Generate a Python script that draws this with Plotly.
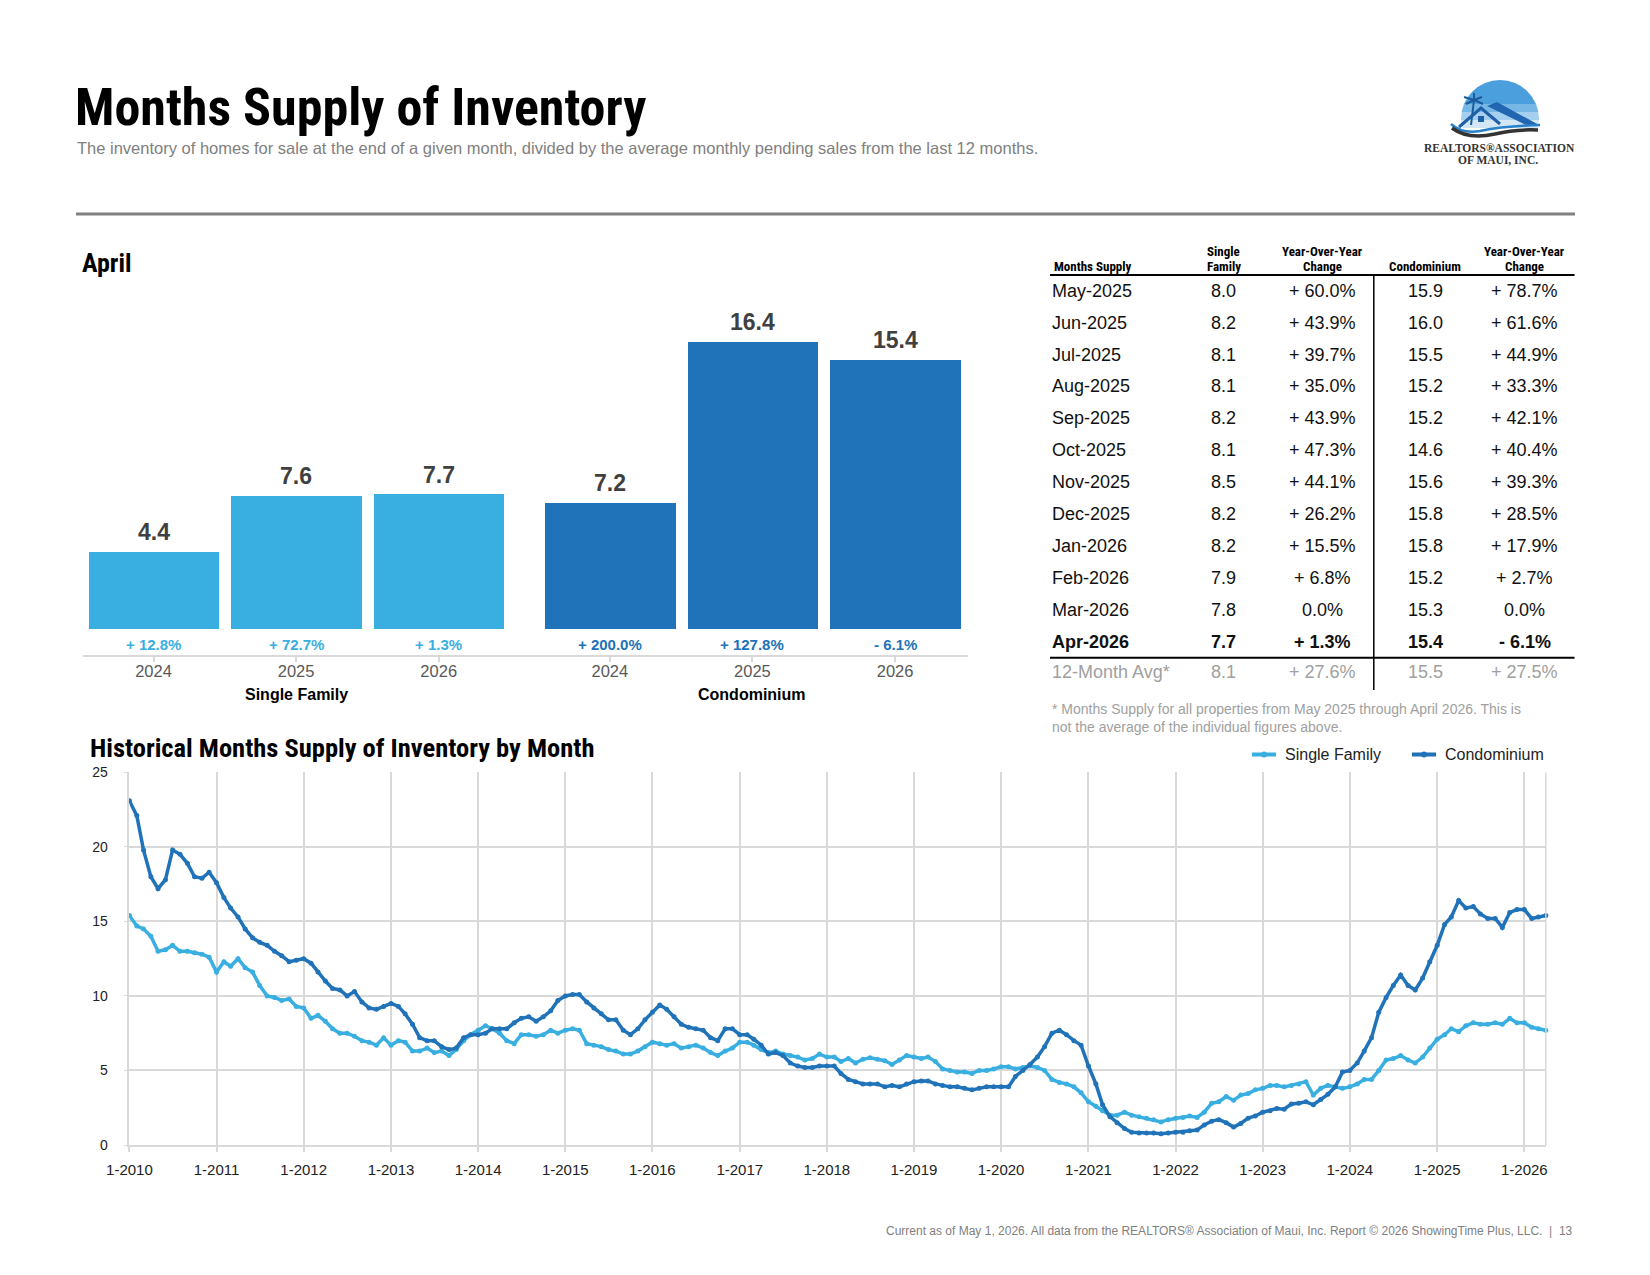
import plotly.graph_objects as go
import pandas as pd

W, H = 1650, 1275


def px(x):
    return x / W


def py(y):
    return 1 - y / H


SF_BLUE = "#39AEE1"
CONDO_BLUE = "#2073B8"
NARROW = "Roboto Condensed, Liberation Sans Narrow, DejaVu Sans Condensed, sans-serif"
SANS = "Liberation Sans, Arial, Helvetica, sans-serif"
SERIF = "Liberation Serif, Times New Roman, serif"
GRID = "#d9d9d9"

# ---------------- data: April bar chart ----------------
bar_years = ["2024", "2025", "2026"]
bar_groups = ["Single Family", "Condominium"]
sf_april = [4.4, 7.6, 7.7]
condo_april = [7.2, 16.4, 15.4]
sf_april_change = ["+ 12.8%", "+ 72.7%", "+ 1.3%"]
condo_april_change = ["+ 200.0%", "+ 127.8%", "- 6.1%"]

# ---------------- data: table ----------------
table_header = ["Months Supply", "Single|Family", "Year-Over-Year|Change", "|Condominium", "Year-Over-Year|Change"]
table_months = ["May-2025", "Jun-2025", "Jul-2025", "Aug-2025", "Sep-2025", "Oct-2025",
                "Nov-2025", "Dec-2025", "Jan-2026", "Feb-2026", "Mar-2026", "Apr-2026"]
table_sf = ["8.0", "8.2", "8.1", "8.1", "8.2", "8.1", "8.5", "8.2", "8.2", "7.9", "7.8", "7.7"]
table_sf_yoy = ["+ 60.0%", "+ 43.9%", "+ 39.7%", "+ 35.0%", "+ 43.9%", "+ 47.3%",
                "+ 44.1%", "+ 26.2%", "+ 15.5%", "+ 6.8%", "0.0%", "+ 1.3%"]
table_condo = ["15.9", "16.0", "15.5", "15.2", "15.2", "14.6", "15.6", "15.8", "15.8", "15.2", "15.3", "15.4"]
table_condo_yoy = ["+ 78.7%", "+ 61.6%", "+ 44.9%", "+ 33.3%", "+ 42.1%", "+ 40.4%",
                   "+ 39.3%", "+ 28.5%", "+ 17.9%", "+ 2.7%", "0.0%", "- 6.1%"]
table_avg = ["12-Month Avg*", "8.1", "+ 27.6%", "15.5", "+ 27.5%"]

# ---------------- data: historical monthly series (Jan 2010 - Apr 2026) ----------------
sf_monthly = [
    15.4, 14.7, 14.5, 14.0, 13.0, 13.1, 13.4, 13.0, 13.0, 12.9, 12.8, 12.6,  # 2010
    11.6, 12.3, 12.0, 12.5, 11.9, 11.6, 10.7, 10.0, 9.9, 9.7, 9.8, 9.3,      # 2011
    9.2, 8.5, 8.7, 8.3, 7.8, 7.5, 7.5, 7.3, 7.0, 6.9, 6.7, 7.2,              # 2012
    6.7, 7.0, 6.9, 6.3, 6.3, 6.5, 6.2, 6.3, 6.0, 6.4, 7.0, 7.4,              # 2013
    7.7, 8.0, 7.8, 7.5, 7.0, 6.8, 7.4, 7.4, 7.3, 7.4, 7.7, 7.5,              # 2014
    7.7, 7.8, 7.7, 6.8, 6.7, 6.6, 6.4, 6.3, 6.1, 6.1, 6.3, 6.6,              # 2015
    6.9, 6.8, 6.7, 6.8, 6.5, 6.6, 6.7, 6.5, 6.2, 6.0, 6.3, 6.5,              # 2016
    6.9, 6.9, 6.7, 6.4, 6.2, 6.3, 6.1, 6.0, 5.9, 5.7, 5.8, 6.1,              # 2017
    5.9, 5.9, 5.6, 5.8, 5.5, 5.75, 5.85, 5.75, 5.65, 5.4, 5.7, 6.0,          # 2018
    5.9, 5.8, 5.9, 5.6, 5.1, 5.0, 4.9, 4.9, 4.8, 5.0, 5.0, 5.1,              # 2019
    5.25, 5.25, 5.1, 5.2, 5.3, 5.2, 5.0, 4.4, 4.2, 4.1, 3.9, 3.5,            # 2020
    2.9, 2.6, 2.3, 2.0, 2.0, 2.2, 2.0, 1.9, 1.8, 1.7, 1.55, 1.7,             # 2021
    1.8, 1.85, 1.95, 1.85, 2.2, 2.8, 2.9, 3.25, 3.0, 3.35, 3.45, 3.7,        # 2022
    3.8, 4.0, 4.0, 3.9, 4.0, 4.1, 4.25, 3.35, 3.8, 4.0, 3.9, 3.8,            # 2023
    3.9, 4.1, 4.4, 4.4, 5.0, 5.7, 5.8, 6.0, 5.7, 5.5, 5.9, 6.5,              # 2024
    7.1, 7.4, 7.8, 7.6, 8.0, 8.2, 8.1, 8.1, 8.2, 8.1, 8.5, 8.2,              # 2025
    8.2, 7.9, 7.8, 7.7,                                                      # 2026
]
condo_monthly = [
    23.1, 22.1, 19.8, 18.0, 17.2, 17.8, 19.8, 19.5, 18.9, 18.0, 17.9, 18.3,  # 2010
    17.6, 16.6, 15.9, 15.3, 14.5, 13.9, 13.6, 13.4, 13.0, 12.7, 12.3, 12.4,  # 2011
    12.5, 12.2, 11.6, 11.0, 10.5, 10.4, 10.0, 10.3, 9.6, 9.2, 9.1, 9.3,      # 2012
    9.5, 9.3, 8.8, 8.1, 7.2, 7.0, 7.0, 6.6, 6.4, 6.5, 7.2, 7.4,              # 2013
    7.4, 7.5, 7.8, 7.8, 7.8, 8.2, 8.5, 8.6, 8.3, 8.6, 9.0, 9.7,              # 2014
    10.0, 10.1, 10.1, 9.6, 9.2, 8.8, 8.4, 8.4, 7.7, 7.4, 7.8, 8.4,           # 2015
    8.9, 9.4, 9.1, 8.6, 8.1, 7.9, 7.8, 7.7, 7.2, 7.0, 7.8, 7.8,              # 2016
    7.4, 7.4, 7.1, 6.7, 6.1, 6.2, 6.0, 5.5, 5.3, 5.2, 5.2, 5.3,              # 2017
    5.3, 5.3, 4.8, 4.4, 4.25, 4.1, 4.1, 4.1, 3.9, 4.0, 3.9, 4.1,             # 2018
    4.25, 4.3, 4.3, 4.1, 4.0, 3.9, 3.9, 3.8, 3.7, 3.8, 3.9, 3.9,             # 2019
    3.9, 3.9, 4.6, 5.0, 5.4, 5.9, 6.6, 7.5, 7.7, 7.4, 7.0, 6.7,              # 2020
    5.3, 4.1, 2.7, 1.9, 1.5, 1.1, 0.85, 0.8, 0.8, 0.8, 0.75, 0.8,            # 2021
    0.85, 0.85, 0.95, 1.0, 1.35, 1.6, 1.7, 1.5, 1.2, 1.45, 1.8, 1.95,        # 2022
    2.2, 2.3, 2.45, 2.4, 2.75, 2.8, 2.9, 2.7, 3.05, 3.4, 3.9, 4.9,           # 2023
    5.0, 5.5, 6.3, 7.2, 8.9, 9.9, 10.7, 11.4, 10.7, 10.4, 11.2, 12.3,        # 2024
    13.4, 14.8, 15.3, 16.4, 15.9, 16.0, 15.5, 15.2, 15.2, 14.6, 15.6, 15.8,  # 2025
    15.8, 15.2, 15.3, 15.4,                                                  # 2026
]
tick_years = list(range(2010, 2027))
y_ticks = [0, 5, 10, 15, 20, 25]

months = pd.date_range("2010-01-01", periods=len(sf_monthly), freq="MS")

fig = go.Figure()

# ---------------- bar chart ----------------
GROUP_GAP = 0.2
sf_pos = [i for i in range(len(bar_years))]
condo_pos = [len(bar_years) + GROUP_GAP + i for i in range(len(bar_years))]

fig.add_trace(go.Bar(x=sf_pos, y=sf_april, width=0.915, marker=dict(color=SF_BLUE, line=dict(width=0)),
                     xaxis="x", yaxis="y", showlegend=False, hoverinfo="skip"))
fig.add_trace(go.Bar(x=condo_pos, y=condo_april, width=0.915, marker=dict(color=CONDO_BLUE, line=dict(width=0)),
                     xaxis="x", yaxis="y", showlegend=False, hoverinfo="skip"))

# ---------------- line chart ----------------
fig.add_trace(go.Scatter(x=months, y=sf_monthly, mode="lines+markers", name="Single Family",
                         line=dict(color=SF_BLUE, width=3.5), marker=dict(size=5, color=SF_BLUE),
                         xaxis="x2", yaxis="y2", showlegend=False, cliponaxis=False))
fig.add_trace(go.Scatter(x=months, y=condo_monthly, mode="lines+markers", name="Condominium",
                         line=dict(color=CONDO_BLUE, width=3.5), marker=dict(size=5, color=CONDO_BLUE),
                         xaxis="x2", yaxis="y2", showlegend=False, cliponaxis=False))

annotations = []


def ann(text, x, y, size, color="#000", family=SANS, xanchor="left", yanchor="middle",
        xref="paper", yref="paper", yshift=0):
    annotations.append(dict(text=text, x=x, y=y, xref=xref, yref=yref, xanchor=xanchor,
                            yanchor=yanchor, showarrow=False, yshift=yshift,
                            font=dict(size=size, color=color, family=family)))


# titles
ann("<b>Months Supply of Inventory</b>", px(73), py(107), 52, "#000", NARROW)
ann("The inventory of homes for sale at the end of a given month, divided by the average monthly pending sales from the last 12 months.",
    px(75), py(148), 16.5, "#808080", SANS)
ann("<b>April</b>", px(80), py(263), 26, "#000", NARROW)
ann("<b>Historical Months Supply of Inventory by Month</b>", px(88), py(747), 26.5, "#000", NARROW)

# bar value labels and change labels
for pos, v, ch in zip(sf_pos, sf_april, sf_april_change):
    ann(f"<b>{v:.1f}</b>", pos, v, 23, "#404040", SANS, "center", "bottom", "x", "y", yshift=5)
    ann(f"<b>{ch}</b>", pos, py(644), 15, SF_BLUE, SANS, "center", "middle", "x", "paper")
for pos, v, ch in zip(condo_pos, condo_april, condo_april_change):
    ann(f"<b>{v:.1f}</b>", pos, v, 23, "#404040", SANS, "center", "bottom", "x", "y", yshift=5)
    ann(f"<b>{ch}</b>", pos, py(644), 15, CONDO_BLUE, SANS, "center", "middle", "x", "paper")
for grp, poss in zip(bar_groups, [sf_pos, condo_pos]):
    ann(f"<b>{grp}</b>", sum(poss) / len(poss), py(694), 16, "#000", SANS, "center", "middle", "x", "paper")

# table
col_x = [1052, 1223.8, 1322.5, 1425, 1524.5]
for j, h in enumerate(table_header):
    top, bottom = h.split("|") if "|" in h else ("", h)
    xa = "left" if j == 0 else "center"
    if top:
        ann(f"<b>{top}</b>", px(col_x[j]), py(251), 13, "#000", NARROW, xa)
    ann(f"<b>{bottom}</b>", px(col_x[j]), py(266), 13, "#000", NARROW, xa)

row_y0, row_step = 290.7, 31.9
for i, row in enumerate(zip(table_months, table_sf, table_sf_yoy, table_condo, table_condo_yoy)):
    yy = row_y0 + i * row_step
    last = i == len(table_months) - 1
    for j, cell in enumerate(row):
        txt = f"<b>{cell}</b>" if last else cell
        ann(txt, px(col_x[j] - (2 if j == 0 else 0)), py(yy), 18, "#111", SANS, "left" if j == 0 else "center")
for j, cell in enumerate(table_avg):
    ann(cell, px(col_x[j] - (2 if j == 0 else 0)), py(671.7), 18, "#a0a0a0", SANS, "left" if j == 0 else "center")

ann("* Months Supply for all properties from May 2025 through April 2026. This is", px(1050), py(708.5), 14, "#a0a0a0")
ann("not the average of the individual figures above.", px(1050), py(726.5), 14, "#a0a0a0")

# legend (manual)
for lx, name, col in [(1252, "Single Family", SF_BLUE), (1412, "Condominium", CONDO_BLUE)]:
    ann(name, px(lx + 31), py(754.5), 16, "#222")

# footer
ann("Current as of May 1, 2026. All data from the REALTORS® Association of Maui, Inc. Report © 2026 ShowingTime Plus, LLC.  |  13",
    px(1575), py(1231), 12, "#808080", SANS, "right")

# logo text
ann("<b>REALTORS®ASSOCIATION</b>", px(1499.5), py(147.5), 11.5, "#333", SERIF, "center")
ann("<b>OF MAUI, INC.</b>", px(1497.5), py(159.5), 11.5, "#333", SERIF, "center")

shapes = []


def line(x0, y0, x1, y1, color, width):
    shapes.append(dict(type="line", xref="paper", yref="paper", x0=px(x0), y0=py(y0), x1=px(x1), y1=py(y1),
                       line=dict(color=color, width=width)))


def path(points, fill=None, color=None, width=0, closed=True):
    d = "M " + " L ".join(f"{px(a):.5f},{py(b):.5f}" for a, b in points) + (" Z" if closed else "")
    shapes.append(dict(type="path", xref="paper", yref="paper", path=d,
                       fillcolor=fill if fill else "rgba(0,0,0,0)",
                       line=dict(color=color if color else "rgba(0,0,0,0)", width=width)))


# header rule
line(76, 214, 1575, 214, "#808080", 3)

# table rules
line(1050, 275, 1574.5, 275, "#000", 2)
line(1050, 657.7, 1574.5, 657.7, "#000", 2)
line(1373.8, 275, 1373.8, 690, "#000", 1.5)

# right border of line chart
line(1545.8, 772.4, 1545.8, 1145, GRID, 1.5)

# legend samples
for lx, col in [(1252, SF_BLUE), (1412, CONDO_BLUE)]:
    line(lx, 754.5, lx + 24, 754.5, col, 4)
    shapes.append(dict(type="circle", xref="paper", yref="paper", x0=px(lx + 9), x1=px(lx + 15),
                       y0=py(757.5), y1=py(751.5), fillcolor=col, line=dict(width=0)))

# logo graphics
shapes.append(dict(type="circle", xref="paper", yref="paper", x0=px(1461), x1=px(1539), y0=py(158), y1=py(80),
                   fillcolor="#4a9fdc", line=dict(width=0), layer="below"))
for k, (ya, yb, op) in enumerate([(104, 112, 0.25), (112, 120, 0.5), (120, 128, 0.75)]):
    shapes.append(dict(type="rect", xref="paper", yref="paper", x0=px(1455), x1=px(1545), y0=py(yb), y1=py(ya),
                       fillcolor=f"rgba(255,255,255,{op})", line=dict(width=0), layer="below"))
shapes.append(dict(type="rect", xref="paper", yref="paper", x0=px(1455), x1=px(1545), y0=py(160), y1=py(128),
                   fillcolor="#ffffff", line=dict(width=0), layer="below"))
# palm tree
line(1471, 125, 1474, 100, "#1c5a9c", 2)
for fx, fy in [(1464, 97), (1466, 104), (1482, 97), (1483, 104), (1474, 93)]:
    line(1474, 100, fx, fy, "#1c5a9c", 2)
# house
path([(1459, 127), (1481, 108), (1500, 124)], color="#1f5fa8", width=3, closed=False)
path([(1487, 106), (1497, 102), (1539, 125), (1526, 125)], fill="#2166b0")
shapes.append(dict(type="rect", xref="paper", yref="paper", x0=px(1478), x1=px(1484), y0=py(122), y1=py(116),
                   fillcolor="#1f5fa8", line=dict(width=0)))
# waves
shapes.append(dict(type="path", xref="paper", yref="paper",
                   path=f"M {px(1451)},{py(124)} Q {px(1462)},{py(134)} {px(1480)},{py(131)} Q {px(1505)},{py(126)} {px(1540)},{py(125)}",
                   line=dict(color="#2a80c8", width=2.5)))
shapes.append(dict(type="path", xref="paper", yref="paper",
                   path=f"M {px(1452)},{py(128)} Q {px(1468)},{py(140)} {px(1495)},{py(134)} Q {px(1515)},{py(129)} {px(1538)},{py(130)}",
                   line=dict(color="#333333", width=3.5)))

fig.update_layout(
    width=W, height=H, margin=dict(l=0, r=0, t=0, b=0, autoexpand=False),
    paper_bgcolor="white", plot_bgcolor="white",
    showlegend=False, bargap=0,
    font=dict(family=SANS, color="#222"),
    xaxis=dict(domain=[px(82.5), px(967.5)], range=[-0.498, 5.708], anchor="y",
               tickvals=sf_pos + condo_pos, ticktext=bar_years + bar_years,
               tickfont=dict(size=16.5, color="#595959", family=SANS),
               showline=True, linecolor=GRID, linewidth=2, ticks="outside", ticklen=5, tickcolor=GRID,
               tickwidth=1.5, showgrid=False, zeroline=False, fixedrange=True, ticklabelstandoff=-4),
    yaxis=dict(domain=[py(654.5), py(279.3)], range=[-1.44, 20], visible=False, fixedrange=True, anchor="x"),
    xaxis2=dict(domain=[px(129.4), px(1545.8)], type="date", range=[months[0], months[-1]], anchor="y2",
                tickvals=[pd.Timestamp(f"{y}-01-01") for y in tick_years],
                ticktext=[f"1-{y}" for y in tick_years],
                tickfont=dict(size=15, color="#222", family=SANS),
                showgrid=True, gridcolor=GRID, gridwidth=1.5,
                showline=True, linecolor=GRID, linewidth=2,
                ticks="outside", ticklen=5, tickcolor=GRID, tickwidth=1.5, zeroline=False,
                ticklabelstandoff=5),
    yaxis2=dict(domain=[py(1145), py(772.4)], range=[0, 25], tickvals=y_ticks, anchor="x2",
                tickfont=dict(size=14, color="#222", family=SANS),
                showgrid=True, gridcolor=GRID, gridwidth=1.5, zeroline=False,
                showline=True, linecolor=GRID, linewidth=1.5,
                ticks="outside", ticklen=4, tickcolor=GRID, ticklabelstandoff=13),
    annotations=annotations,
    shapes=shapes,
)

fig.write_html("out.html")
